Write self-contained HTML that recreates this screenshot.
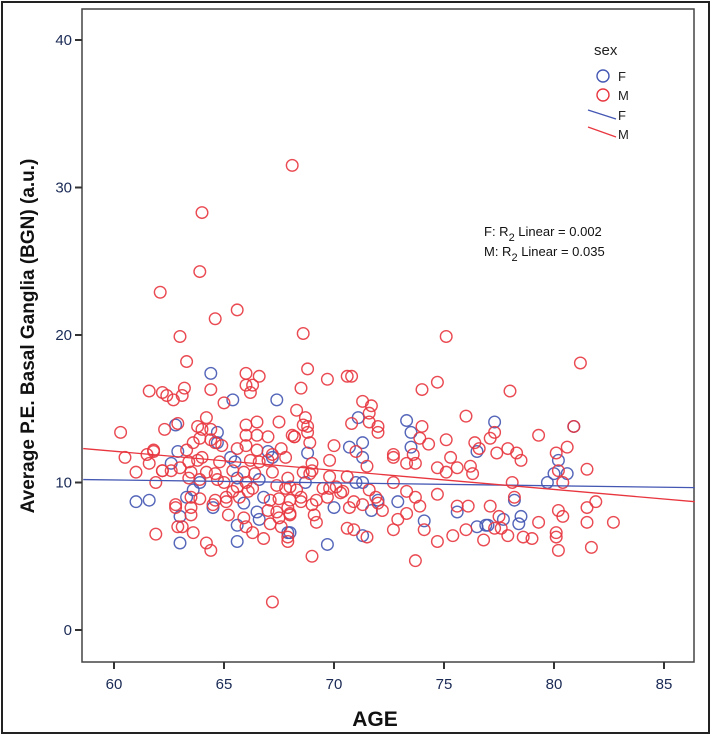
<!DOCTYPE html>
<html><head><meta charset="utf-8"><style>
body{margin:0;background:#fff;}
svg{display:block;font-family:"Liberation Sans",sans-serif;}
</style></head><body>
<svg id="chart" width="712" height="736" viewBox="0 0 712 736">
<rect x="2" y="2" width="707" height="731" fill="#fff" stroke="#222" stroke-width="2"/>
<rect x="82" y="9" width="612" height="653" fill="#fff" stroke="#444" stroke-width="1.5"/>
<g id="yaxis"></g>
<g id="xaxis"></g>
<g id="marks"></g>
<g id="fits"></g>
<text x="375" y="726" font-size="21" font-weight="bold" text-anchor="middle" fill="#111">AGE</text>
<text transform="translate(34,336) rotate(-90)" font-size="19" font-weight="bold" text-anchor="middle" fill="#111">Average P.E. Basal Ganglia (BGN) (a.u.)</text>
<g>
<text x="594" y="55" font-size="15" fill="#222">sex</text>
<circle cx="603" cy="76" r="6" fill="none" stroke="#4457b3" stroke-width="1.4"/>
<text x="618" y="81" font-size="13" fill="#222">F</text>
<circle cx="603" cy="95" r="6" fill="none" stroke="#e8363f" stroke-width="1.4"/>
<text x="618" y="100" font-size="13" fill="#222">M</text>
<line x1="588" y1="110" x2="616" y2="119" stroke="#4457b3" stroke-width="1.3"/>
<text x="618" y="120" font-size="13" fill="#222">F</text>
<line x1="588" y1="127" x2="616" y2="137" stroke="#e8363f" stroke-width="1.3"/>
<text x="618" y="139" font-size="13" fill="#222">M</text>
</g>
<text x="484" y="236" font-size="13" fill="#111">F: R<tspan dy="5" font-size="11">2</tspan><tspan dy="-5"> Linear = 0.002</tspan></text>
<text x="484" y="256" font-size="13" fill="#111">M: R<tspan dy="5" font-size="11">2</tspan><tspan dy="-5"> Linear = 0.035</tspan></text>
</svg>
<script>
const yTicks=[0,10,20,30,40];
const xTicks=[60,65,70,75,80,85];
const redAge=[68.1,64.0,63.9,62.1,64.6,65.6,63.0,68.6,63.3,81.2,75.1,68.8,69.7,70.6,70.8,68.5,74.0,74.7,76.0,68.3,71.3,61.6,62.2,62.4,62.7,63.2,63.1,64.4,65.0,66.0,66.6,66.0,66.3,66.2,60.3,60.5,61.0,61.5,61.6,61.8,62.3,62.9,61.9,62.2,61.9,67.2,64.4,64.2,63.6,62.8,62.9,63.1,63.5,
68.7,68.6,68.8,68.8,68.2,68.9,71.7,71.6,71.6,72.0,72.0,70.8,74.0,73.9,74.3,75.1,70.0,71.0,72.7,72.7,73.6,73.7,73.3,75.3,69.8,69.0,69.0,71.5,74.7,75.1,75.6,76.2,76.3,68.6,68.9,69.8,70.6,72.7,68.0,68.5,68.5,69.5,69.8,70.1,70.3,70.4,69.7,69.2,69.0,71.6,71.9,72.0,70.9,70.7,71.3,73.3,73.7,73.9,74.7,75.6,76.1,72.2,68.0,69.1,69.2,73.3,72.9,70.6,70.9,71.5,72.7,74.1,74.7,75.4,76.0,76.8,69.0,73.7,
78.0,77.3,77.1,76.4,76.6,77.4,77.9,78.3,78.5,79.3,80.6,80.1,81.5,78.1,80.4,80.2,78.2,77.1,77.5,77.3,77.6,77.9,78.6,79.0,79.3,80.2,80.4,81.5,81.9,81.5,82.7,80.1,80.1,80.2,81.7,80.9,
66.0,66.5,64.2,63.8,64.0,64.4,67.5,68.1,68.2,66.0,66.5,67.0,63.9,64.4,64.9,64.6,63.3,63.6,65.6,66.0,66.5,67.6,61.8,64.0,63.8,63.4,63.0,64.8,66.2,66.6,67.0,67.2,67.8,62.2,62.6,63.5,64.2,64.6,65.4,65.9,66.4,67.2,67.9,63.4,63.9,64.7,65.0,65.6,66.0,66.3,67.4,67.8,68.3,63.5,63.9,64.6,65.1,65.4,65.7,66.1,67.1,67.5,68.0,62.8,64.5,65.1,63.5,67.0,67.4,67.9,65.2,65.9,67.5,68.0,66.0,67.1,67.6,66.3,66.8,67.9,67.9];
const redVal=[31.5,28.3,24.3,22.9,21.1,21.7,19.9,20.1,18.2,18.1,19.9,17.7,17.0,17.2,17.2,16.4,16.3,16.8,14.5,14.9,15.5,16.2,16.1,15.9,15.6,16.4,15.9,16.3,15.4,17.4,17.2,16.6,16.6,16.1,13.4,11.7,10.7,11.9,11.3,12.2,13.6,14.0,6.5,10.8,10.0,1.9,5.4,5.9,6.6,8.3,7.0,7.0,7.8,
14.4,13.9,13.8,13.4,13.1,12.7,15.2,14.7,14.1,13.8,13.4,14.0,13.8,13.0,12.6,12.9,12.5,12.1,11.9,11.7,11.9,11.3,11.3,11.7,11.5,11.3,10.8,11.1,11.0,10.7,11.0,11.1,10.6,10.7,10.6,10.4,10.4,10.0,9.7,9.0,8.7,9.6,9.6,9.7,9.3,9.4,9.0,8.8,8.5,9.5,9.0,8.6,8.7,8.3,8.5,9.4,9.0,8.4,9.2,8.4,8.4,8.1,7.9,7.8,7.3,7.9,7.5,6.9,6.8,6.3,6.8,6.8,6.0,6.4,6.8,6.1,5.0,4.7,
16.2,13.4,13.0,12.7,12.3,12.0,12.3,12.0,11.5,13.2,12.4,12.0,10.9,10.0,10.0,10.8,9.0,8.4,7.7,6.9,6.9,6.4,6.3,6.2,7.3,8.1,7.7,8.3,8.7,7.3,7.3,6.6,6.3,5.4,5.6,13.8,
13.9,14.1,14.4,13.8,13.6,13.6,14.1,13.2,13.1,13.2,13.2,13.1,13.0,12.9,12.5,12.7,12.2,12.7,12.3,12.5,12.2,12.3,12.1,11.7,11.5,11.4,11.0,11.4,11.5,11.4,11.5,11.9,11.7,10.8,10.8,10.7,10.7,10.6,10.8,10.7,10.6,10.7,10.3,10.3,10.2,10.2,10.0,9.7,10.0,9.6,9.8,9.6,9.5,9.0,8.9,8.8,9.0,9.4,9.0,9.4,8.8,8.9,8.8,8.5,8.5,8.7,8.3,8.1,8.0,8.3,7.8,7.6,7.6,7.8,7.0,7.2,7.0,6.6,6.2,6.3,6.0];
const blueAge=[61.0,61.6,64.4,65.4,67.4,62.8,64.7,62.9,62.6,63.0,65.6,65.3,65.5,65.6,67.0,67.2,66.6,63.6,63.3,64.5,65.9,66.5,66.6,65.6,67.9,63.0,63.9,64.7,66.8,
71.1,71.3,70.7,73.3,73.5,73.5,76.5,68.8,71.3,68.7,71.0,71.3,70.0,71.7,72.0,72.9,74.1,75.6,69.7,71.3,76.5,77.0,68.0,
77.3,80.9,80.2,80.0,79.7,80.6,78.2,78.5,78.4,77.7,76.9];
const blueVal=[8.7,8.8,17.4,15.6,15.6,13.9,13.4,12.1,11.3,5.9,6.0,11.7,11.4,10.3,12.1,11.7,10.2,9.5,9.0,8.3,8.6,8.0,7.5,7.1,6.6,7.7,10.0,12.7,9.0,
14.4,12.7,12.4,14.2,13.4,12.4,12.1,12.0,11.7,10.0,10.0,10.0,8.3,8.1,8.8,8.7,7.4,8.0,5.8,6.4,7.0,7.1,6.6,
14.1,13.8,11.5,10.6,10.0,10.6,8.8,7.7,7.2,7.5,7.1];
const fitAge=[58.6,86.4];
const fitF=[10.2,9.65];
const fitM=[12.3,8.7];
const NS='http://www.w3.org/2000/svg';
function xs(a){return 114+(a-60)*22;}
function ys(v){return 630-v*14.75;}
function mk(tag,attrs,parent){const e=document.createElementNS(NS,tag);for(const k in attrs)e.setAttribute(k,attrs[k]);parent.appendChild(e);return e;}
const ya=document.getElementById('yaxis'),xa=document.getElementById('xaxis'),mg=document.getElementById('marks'),fg=document.getElementById('fits');
yTicks.forEach(t=>{const y=ys(t);
const l=mk('line',{x1:75,x2:82,y1:y,y2:y,stroke:'#333','stroke-width':2},ya);


const tx=mk('text',{x:72,y:y+5,'font-size':15,'text-anchor':'end',fill:'#1a2a55'},ya);tx.textContent=t;

});
xTicks.forEach(t=>{const x=xs(t);
const l=mk('line',{x1:x,x2:x,y1:662,y2:669,stroke:'#333','stroke-width':2},xa);


const tx=mk('text',{x:x,y:689,'font-size':15,'text-anchor':'middle',fill:'#1a2a55'},xa);tx.textContent=t;

});
function pts(ages,vals,col,name){ages.forEach((a,i)=>{
const c=mk('circle',{cx:xs(a),cy:ys(vals[i]),r:5.8,fill:'none',stroke:col,'stroke-width':1.4,'stroke-opacity':0.9},mg);

});}
pts(blueAge,blueVal,'#4457b3','point-female');
pts(redAge,redVal,'#e8363f','point-male');
const lf=mk('line',{x1:xs(fitAge[0]),y1:ys(fitF[0]),x2:xs(fitAge[1]),y2:ys(fitF[1]),stroke:'#4457b3','stroke-width':1.3},fg);


const lm=mk('line',{x1:xs(fitAge[0]),y1:ys(fitM[0]),x2:xs(fitAge[1]),y2:ys(fitM[1]),stroke:'#e8363f','stroke-width':1.3},fg);


</script>
</body></html>
